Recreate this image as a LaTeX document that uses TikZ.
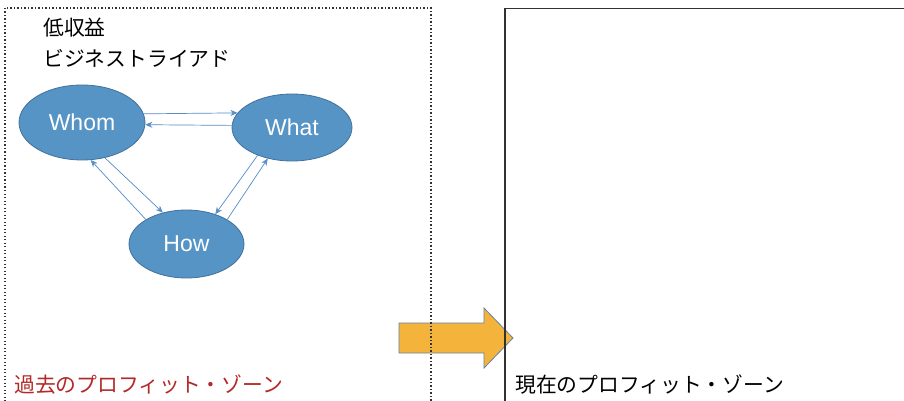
\documentclass[tikz,border=0pt]{standalone}
\usepackage{fontspec}
\setmainfont{Liberation Sans}
\newfontfamily\jp{Noto Sans CJK JP}
\usetikzlibrary{arrows.meta,shapes.geometric}
\definecolor{ellfill}{RGB}{86,148,198}
\definecolor{elldraw}{RGB}{65,113,156}
\definecolor{conn}{RGB}{84,141,200}
\definecolor{pastred}{RGB}{180,40,40}
\definecolor{arrfill}{RGB}{244,180,60}
\definecolor{arrdraw}{RGB}{100,130,165}
\definecolor{boxgray}{RGB}{50,50,50}
\tikzset{
  ell/.style={ellipse, fill=ellfill, draw=elldraw, line width=0.8pt, inner sep=0pt,
    text=white, font=\fontsize{23}{25}\selectfont},
  conarrow/.style={draw=conn, line width=0.7pt, -{Stealth[length=7pt,width=6pt]}},
  jptext/.style={inner sep=0pt, anchor=west, font=\jp\fontsize{20.8}{24}\selectfont},
}
\begin{document}
\begin{tikzpicture}[x=1pt,y=-1pt]
\useasboundingbox (0,0) rectangle (904,401);
\clip (0,0) rectangle (904,401);
\fill[white] (0,0) rectangle (904,401);
% big orange arrow
\draw[fill=arrfill, draw=arrdraw, line width=0.8pt]
  (399,323) -- (484,323) -- (484,308) -- (513,338) -- (484,368) -- (484,353) -- (399,353) -- cycle;
% boxes
\draw[boxgray, line width=1.1pt, dash pattern=on 1.1pt off 2.4pt] (5,8) rectangle (431,420);
\draw[boxgray, line width=1.5pt] (505,8.5) rectangle (920,420);
% ellipses
\node[ell, minimum width=126pt, minimum height=75pt] (whom) at (82,122.5) {Whom};
\node[ell, minimum width=120pt, minimum height=67pt] (what) at (292,127.5) {What};
\node[ell, minimum width=115pt, minimum height=68pt] (how) at (186.5,244) {How};
% connectors
\draw[conarrow] (whom.8) -- (what.165);
\draw[conarrow] (what.178) -- (whom.-2);
\draw[conarrow] (whom.-57) -- (how.127);
\draw[conarrow] (how.149) -- (whom.-77);
\draw[conarrow] (what.219) -- (how.46);
\draw[conarrow] (how.31) -- (what.232);
% texts
\node[jptext] (t1) at (43,28) {低収益};
\node[jptext] (t2) at (43,58) {ビジネストライアド};
\node[jptext, text=pastred] (t3) at (14,385) {過去のプロフィット・ゾーン};
\node[jptext] (t4) at (515,385) {現在のプロフィット・ゾーン};
\end{tikzpicture}
\end{document}
